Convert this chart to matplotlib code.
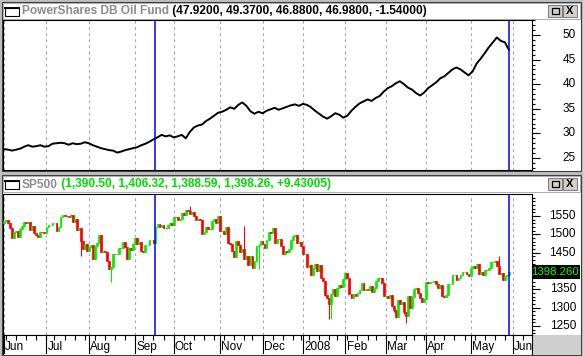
import numpy as np
import pandas as pd
import matplotlib
matplotlib.use('Agg')
import matplotlib.pyplot as plt
from matplotlib.patches import Rectangle

plt.rcParams['font.family'] = ['Liberation Sans', 'DejaVu Sans']

# trading calendar (NYSE holidays in the window)
holidays = ['2007-07-04', '2007-09-03', '2007-11-22', '2007-12-25', '2008-01-01',
            '2008-01-21', '2008-02-18', '2008-03-21', '2008-05-26']
start, end, axis_end = '2007-06-01', '2008-05-29', '2008-06-30'
month_names = ['Jun', 'Jul', 'Aug', 'Sep', 'Oct', 'Nov', 'Dec', '2008',
               'Feb', 'Mar', 'Apr', 'May', 'Jun']
marker_dates = ['2007-09-18', '2008-05-29']

# PowerShares DB Oil Fund, close read every 2nd session
oil_close = [26.8, 26.7, 26.5, 26.7, 26.9, 27.3, 27.6, 27.3, 27.4, 27.6,
             27.3, 27.4, 27.9, 28.0, 28.1, 28.0, 27.7, 28.0, 27.8, 27.9,
             28.2, 28.0, 27.6, 27.3, 27.0, 26.8, 26.6, 26.5, 26.1, 26.3,
             26.6, 26.8, 27.0, 27.2, 27.6, 27.9, 28.3, 28.8, 29.2, 29.7,
             29.4, 29.6, 29.2, 29.4, 29.7, 29.0, 30.3, 31.2, 31.6, 31.8,
             32.5, 33.0, 33.6, 34.2, 34.4, 34.8, 35.3, 35.0, 35.8, 36.3,
             35.6, 34.5, 34.0, 34.4, 34.1, 34.6, 34.9, 35.2, 34.8, 35.1,
             35.4, 35.7, 35.9, 35.6, 36.0, 35.8, 35.3, 34.6, 34.0, 33.4,
             33.0, 33.5, 34.1, 33.8, 33.2, 33.6, 34.6, 35.4, 36.1, 36.5,
             36.9, 36.6, 37.2, 37.6, 38.5, 39.2, 39.6, 40.2, 40.6, 40.0,
             39.3, 38.9, 38.2, 37.7, 38.3, 39.2, 39.8, 40.4, 41.2, 41.6,
             42.3, 43.0, 43.4, 43.0, 42.4, 41.8, 42.6, 44.2, 45.2, 46.3,
             47.5, 48.5, 49.5, 48.8, 48.5, 46.98]

# SP500 daily closes
sp_close = [
    1536.34, 1539.18, 1530.95, 1517.38, 1490.72, 1507.67, 1509.12, 1493.00, 1515.67, 1522.97,
    1532.91, 1531.05, 1533.70, 1512.84, 1522.19, 1502.56, 1497.74, 1492.89, 1506.34, 1505.71, 1503.35,
    1519.43, 1524.87, 1525.40, 1530.44, 1531.85, 1510.12, 1518.76, 1547.70, 1552.50, 1549.52,
    1549.37, 1546.17, 1553.08, 1534.10, 1541.57, 1511.04, 1518.09, 1482.66, 1458.95, 1473.91, 1455.27,
    1465.81, 1472.20, 1433.06, 1467.67, 1476.71, 1497.49, 1453.09, 1453.64, 1452.92, 1426.54,
    1406.70, 1411.27, 1445.94, 1445.55, 1447.12, 1464.07, 1462.50, 1479.37, 1466.79, 1432.36,
    1463.76, 1457.64, 1473.99,
    1489.42, 1472.29, 1478.55, 1453.55, 1451.70, 1471.49, 1471.56, 1483.95, 1484.25, 1476.65,
    1519.78, 1529.03, 1518.75, 1525.75, 1517.73, 1517.21, 1525.42, 1531.38, 1526.75,
    1547.04, 1546.63, 1539.59, 1542.84, 1557.59, 1552.58, 1565.15, 1562.47, 1554.41, 1561.80,
    1548.71, 1538.53, 1541.24, 1540.08, 1500.63, 1506.33, 1519.59, 1515.88, 1514.40, 1535.28,
    1540.98, 1531.02, 1549.38,
    1508.44, 1509.65, 1502.17, 1520.27, 1475.62, 1474.77, 1453.70, 1439.18, 1481.05, 1470.58,
    1451.15, 1458.74, 1433.27, 1439.70, 1416.77, 1440.70, 1407.22, 1428.23, 1469.02, 1469.72, 1481.14,
    1472.42, 1462.79, 1485.01, 1507.34, 1504.66, 1515.96, 1477.65, 1486.59, 1488.41, 1467.95,
    1445.90, 1454.98, 1453.00, 1460.12, 1484.46, 1496.45, 1497.66, 1476.27, 1478.49, 1468.36,
    1447.16, 1447.16, 1411.63, 1416.18, 1390.19, 1409.13, 1420.33, 1401.02, 1416.25, 1380.95,
    1373.20, 1333.25, 1325.19, 1310.50, 1338.60, 1352.07, 1330.61, 1353.97, 1362.30, 1355.81, 1378.55,
    1395.42, 1380.82, 1336.64, 1326.45, 1336.91, 1331.29, 1339.13, 1348.86, 1367.21, 1348.86,
    1349.99, 1348.78, 1360.03, 1342.53, 1353.11, 1371.80, 1381.29, 1380.02, 1367.68, 1330.63,
    1331.34, 1326.75, 1333.70, 1304.34, 1293.37, 1273.37, 1320.65, 1308.77, 1315.48, 1288.14,
    1276.60, 1330.74, 1298.42, 1329.51, 1349.88, 1352.99, 1341.13, 1325.76, 1315.22, 1322.70,
    1370.18, 1367.53, 1369.31, 1370.40, 1372.54, 1365.54, 1354.49, 1360.55, 1332.83, 1328.32,
    1334.43, 1364.71, 1365.56, 1390.33, 1388.17, 1375.94, 1379.93, 1388.82, 1397.84, 1396.37,
    1390.94, 1385.59,
    1409.34, 1413.90, 1407.49, 1418.26, 1392.57, 1397.68, 1388.28, 1403.58, 1403.04, 1408.66,
    1423.57, 1425.35, 1426.63, 1413.40, 1390.71, 1394.35, 1375.93, 1385.35, 1388.83, 1398.26]
sp_first_open = 1530.62
# intraday extremes that stick out of the bodies
sp_low_idx = [38, 44, 53, 61, 98, 126, 159, 161, 162, 193, 194, 198, 199]
sp_low_val = [1440.2, 1432.0, 1370.6, 1432.0, 1500.3, 1406.1, 1332.0, 1270.1, 1270.0, 1287.0, 1272.7, 1282.0, 1257.0]
sp_high_idx = [33, 90, 92, 119, 245]
sp_high_val = [1555.9, 1565.3, 1576.1, 1523.6, 1440.2]

oil_title, oil_values = 'PowerShares DB Oil Fund', '(47.9200, 49.3700, 46.8800, 46.9800, -1.54000)'
sp_title, sp_values = 'SP500', '(1,390.50, 1,406.32, 1,388.59, 1,398.26, +9.43005)'
sp_last = '1398.260'
oil_ticks = [25, 30, 35, 40, 45, 50]
oil_labels = [25, 30, 35, 40, 45, 50]
sp_ticks = [1250, 1300, 1350, 1400, 1450, 1500, 1550]
sp_labels = [1250, 1300, 1350, 1450, 1500, 1550]  # 1400 sits under the last-value box

GRAY = '#c0c0c0'
GREEN = '#00ee00'
RED = '#ff0000'

W, H = 583, 356
fig = plt.figure(figsize=(W / 100, H / 100), dpi=100, facecolor=GRAY)


def box(x0, y0, x1, y1):
    return [x0 / W, 1 - y1 / H, (x1 - x0) / W, (y1 - y0) / H]


bg = fig.add_axes([0, 0, 1, 1], zorder=0)
bg.set_xlim(0, W)
bg.set_ylim(H, 0)
bg.axis('off')

# window frames, title bars, axis areas
for y0, y1 in [(2, 171), (175, 355)]:
    bg.add_patch(Rectangle((2, y0), 579, y1 - y0, fc='white', ec='#404040', lw=0.8))
for y0 in [3, 176]:
    bg.add_patch(Rectangle((3, y0), 577, 15.5, fc='white', ec='#a0a0a0', lw=0.6))
    bg.add_patch(Rectangle((5, y0 + 4.5), 14, 8, fc='white', ec='black', lw=0.8))
    bg.plot([5, 19], [y0 + 4.8, y0 + 4.8], color='black', lw=1.4)
    for bx in [548, 563]:
        bg.add_patch(Rectangle((bx, y0 + 1.5), 14, 12.5, fc='#d4d0c8', ec='#808080', lw=0.8))
    bg.add_patch(Rectangle((551.5, y0 + 4.5), 7, 6.5, fc='none', ec='black', lw=0.9))
    bg.text(570, y0 + 8, 'X', ha='center', va='center', fontsize=8, fontweight='bold')
bg.add_patch(Rectangle((532, 335), 49, 20, fc='#cfcfcf', ec='none'))

t1 = bg.text(22, 11, oil_title, color='#8c8c8c', fontweight='bold', fontsize=8.6, va='center')
bg.annotate(' ' + oil_values, xy=(1, 0.5), xycoords=t1, va='center', fontsize=8.6,
            fontweight='bold', color='black')
t2 = bg.text(22, 184.5, sp_title, color='#8c8c8c', fontweight='bold', fontsize=8.6, va='center')
bg.annotate(' ' + sp_values, xy=(1, 0.5), xycoords=t2, va='center', fontsize=8.6,
            fontweight='bold', color='#00dd00')

axis_dates = pd.bdate_range(start, axis_end, freq='C', holidays=holidays)
dates = axis_dates[axis_dates <= pd.Timestamp(end)]
n = len(dates)
pos = np.arange(len(axis_dates))
month = np.asarray(axis_dates.month)
wday = np.asarray(axis_dates.weekday)
month_pos = pos[np.r_[True, month[1:] != month[:-1]]]
week_pos = pos[np.r_[True, wday[1:] < wday[:-1]]]
marker_pos = [dates.get_loc(pd.Timestamp(d)) for d in marker_dates]

xlim = (-0.495, 261.4)
off = 44 * 0.72  # label offset right of the axis line, points

ax1 = fig.add_axes(box(3, 20, 532, 170), zorder=1)
ax2 = fig.add_axes(box(3, 194, 532, 335), zorder=1)
for ax, lim, ticks, labels, minor in [(ax1, (22.56, 53.05), oil_ticks, oil_labels, 1),
                                      (ax2, (1225.5, 1610), sp_ticks, sp_labels, 10)]:
    ax.set_xlim(*xlim)
    ax.set_ylim(*lim)
    ax.set_xticks([])
    ax.yaxis.tick_right()
    ax.set_yticks(ticks)
    ax.set_yticks(np.arange(np.ceil(lim[0] / minor) * minor, lim[1], minor), minor=True)
    ax.tick_params(axis='y', which='major', direction='out', length=5.5, width=0.8, labelright=False)
    ax.tick_params(axis='y', which='minor', direction='out', length=2.5, width=0.8)
    for s in ax.spines.values():
        s.set_linewidth(0.8)
    for m in month_pos:
        ax.axvline(m, color='#a8a8a8', lw=0.8, ls=(0, (2.5, 3)), zorder=0)
    for m in marker_pos:
        ax.axvline(m, color='#0000ff', lw=1.1, zorder=4)
    for v in labels:
        ax.annotate(str(v), xy=(1, v), xycoords=('axes fraction', 'data'), xytext=(off, 0),
                    textcoords='offset points', ha='right', va='center', fontsize=8.5,
                    annotation_clip=False)

# oil line
ax1.plot(np.arange(0, n, 2), oil_close, color='black', lw=1.4, zorder=3)

# SP500 bars
close = np.array(sp_close)
opens = np.r_[sp_first_open, close[:-1]]
colors = np.where(close >= opens, GREEN, RED)
hi = np.maximum(opens, close)
lo = np.minimum(opens, close)
hi[sp_high_idx] = np.maximum(hi[sp_high_idx], sp_high_val)
lo[sp_low_idx] = np.minimum(lo[sp_low_idx], sp_low_val)
ax2.vlines(pos[:n], lo, hi, colors=colors, lw=0.8, zorder=2)
ax2.bar(pos[:n], close - opens, bottom=opens, width=0.9, color=colors, edgecolor=colors,
        linewidth=0.5, zorder=3)

# last value box
ax2.add_patch(Rectangle((1.0, close[-1] - 19), 48 / 529, 38, transform=ax2.get_yaxis_transform(),
                        fc='black', ec='none', clip_on=False, zorder=6))
ax2.annotate(sp_last, xy=(1, close[-1]), xycoords=('axes fraction', 'data'), xytext=(off + 2, 0),
             textcoords='offset points', ha='right', va='center', fontsize=8.2, color='#00ff00',
             annotation_clip=False, zorder=7)

# date band
axd = fig.add_axes(box(3, 335, 532, 354), zorder=1)
axd.set_xlim(*xlim)
axd.set_ylim(1, 0)
axd.set_xticks([])
axd.set_yticks([])
axd.spines['bottom'].set_visible(False)
for s in axd.spines.values():
    s.set_linewidth(0.8)
axd.vlines(month_pos, 0, 1, color='black', lw=0.8)
axd.vlines(week_pos, 0, 0.28, color='black', lw=0.8)
for m, lbl in zip(month_pos, month_names):
    axd.text(m + 0.6, 0.62, lbl, ha='left', va='center', fontsize=8.5, clip_on=True)

fig.savefig('out.png', dpi=100, facecolor=GRAY)
